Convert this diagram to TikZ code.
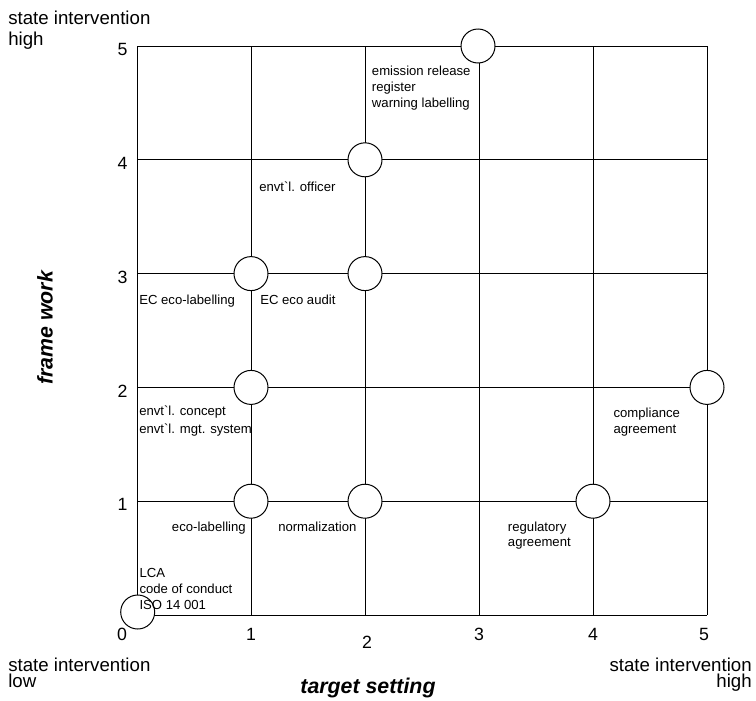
\documentclass[tikz,border=0pt]{standalone}
\usepackage{fontspec}
\setmainfont{Liberation Sans}[Ligatures=TeXOff]
\begin{document}
\begin{tikzpicture}[x=0.75pt,y=-0.75pt,
  gridln/.style={line width=0.75pt,draw=black},
  dot/.style={circle,draw=black,fill=white,line width=0.75pt,minimum size=25.5pt,inner sep=0pt},
  lbl/.style={font=\fontsize{9.85}{12}\selectfont,anchor=base west,inner sep=0pt,align=left},
  tick/.style={font=\fontsize{13.3}{15}\selectfont,inner sep=0pt,anchor=center},
  big/.style={font=\fontsize{14}{16}\selectfont,inner sep=0pt},
  axtitle/.style={font=\fontsize{16}{18}\selectfont\bfseries\itshape,inner sep=0pt,anchor=center}]
\useasboundingbox (0,0) rectangle (756,700);
% grid
\foreach \i in {0,...,5} {
  \draw[gridln] ({137+114*\i},46) -- ({137+114*\i},615);
  \draw[gridln] (137,{615-113.8*\i}) -- (707,{615-113.8*\i});
}
% circles
\node[dot] (c00) at (137.7,612) {};
\node[dot] (c11) at (251,501.2) {};
\node[dot] (c21) at (365,501.2) {};
\node[dot] (c41) at (593,501.2) {};
\node[dot] (c12) at (251,387.4) {};
\node[dot] (c52) at (707,387.4) {};
\node[dot] (c13) at (251,273.6) {};
\node[dot] (c23) at (365,273.6) {};
\node[dot] (c24) at (365,159.8) {};
\node[dot] (c35) at (478,46) {};
% tick labels
\node[tick] (ly5) at (122.5,49.5) {5};
\node[tick] (ly4) at (122.5,163.3) {4};
\node[tick] (ly3) at (122.5,277.1) {3};
\node[tick] (ly2) at (122.5,390.9) {2};
\node[tick] (ly1) at (122.5,504.7) {1};
\node[tick] (lx0) at (122,634) {0};
\node[tick] (lx1) at (251,634) {1};
\node[tick] (lx2) at (367,642) {2};
\node[tick] (lx3) at (479,634) {3};
\node[tick] (lx4) at (593,634) {4};
\node[tick] (lx5) at (704,634) {5};
% labels (multi-line nodes: base = baseline of last line)
\node[lbl,font=\fontsize{9.85}{12}\selectfont] (tEmis) at (371.7,107.7) {emission release\\register\\warning labelling};
\node[lbl] (tOff) at (259,191.7) {envt\symbol{96}l. officer};
\node[lbl] (tECl) at (139,304) {EC eco-labelling};
\node[lbl] (tECa) at (260,304) {EC eco audit};
\node[lbl,font=\fontsize{9.85}{13.2}\selectfont] (tConc) at (139,433.3) {envt\symbol{96}l. concept\\envt\symbol{96}l. mgt. system};
\node[lbl] (tComp) at (613.3,433) {compliance\\agreement};
\node[lbl,font=\fontsize{9.85}{11.25}\selectfont] (tReg) at (507.7,546.7) {regulatory\\agreement};
\node[lbl] (tEco) at (171.7,531.7) {eco-labelling};
\node[lbl] (tNorm) at (278,531.7) {normalization};
\node[lbl] (tLCA) at (139.3,609) {LCA\\code of conduct\\ISO 14 001};
% corner texts
\node[big,anchor=base west,align=left,font=\fontsize{14}{15.75}\selectfont] (sTL) at (8,45) {state intervention\\high};
\node[big,anchor=base west,align=left,font=\fontsize{14}{12}\selectfont] (sBL) at (8,687) {state intervention\\low};
\node[big,anchor=base east,align=right,font=\fontsize{14}{12}\selectfont] (sBR) at (752,687) {state intervention\\high};
% axis titles
\node[axtitle] (xt) at (368,688) {target setting};
\node[axtitle,rotate=90] (yt) at (45,328) {frame work};
\end{tikzpicture}
\end{document}
